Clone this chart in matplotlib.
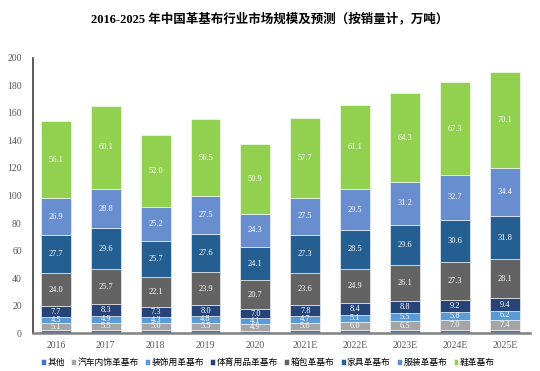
# -*- coding: utf-8 -*-
# 2016-2025 中国革基布行业市场规模及预测 堆叠柱状图
import numpy as np
import matplotlib.pyplot as plt

plt.rcParams['font.family'] = ['Liberation Serif', 'Noto Sans CJK SC']

# ========== 数据 ==========
years = ['2016', '2017', '2018', '2019', '2020', '2021E', '2022E', '2023E', '2024E', '2025E']
series_names = ['其他', '汽车内饰革基布', '装饰用革基布', '体育用品革基布',
                '箱包革基布', '家具革基布', '服装革基布', '鞋革基布']
other = [2.0, 2.1, 2.3, 2.0, 1.6, 2.0, 2.1, 2.2, 2.3, 2.4]
auto_interior = [5.1, 5.5, 5.0, 5.5, 4.9, 5.6, 6.0, 6.5, 7.0, 7.4]
decoration = [4.5, 4.9, 4.3, 4.8, 4.1, 4.7, 5.1, 5.5, 5.8, 6.2]
sports = [7.7, 8.3, 7.3, 8.0, 7.0, 7.8, 8.4, 8.8, 9.2, 9.4]
luggage = [24.0, 25.7, 22.1, 23.9, 20.7, 23.6, 24.9, 26.1, 27.3, 28.1]
furniture = [27.7, 29.6, 25.7, 27.6, 24.1, 27.3, 28.5, 29.6, 30.6, 31.8]
apparel = [26.9, 28.8, 25.2, 27.5, 24.3, 27.5, 29.5, 31.2, 32.7, 34.4]
shoes = [56.1, 60.1, 52.0, 56.5, 50.9, 57.7, 61.1, 64.3, 67.3, 70.1]
yticks = [0, 20, 40, 60, 80, 100, 120, 140, 160, 180, 200]

colors = ['#4472C4', '#A5A5A5', '#5B9BD5', '#264478',
          '#636363', '#255E91', '#698ED0', '#92D050']
series = [other, auto_interior, decoration, sports, luggage, furniture, apparel, shoes]

# ========== 绘图 ==========
fig = plt.figure(figsize=(5.4, 3.71), dpi=100)
ax = fig.add_axes([0.061, 0.1024, 0.92, 0.7413])

x = np.arange(len(years))
bottom = np.zeros(len(years))
for i, (name, vals, c) in enumerate(zip(series_names, series, colors)):
    vals = np.array(vals)
    ax.bar(x, vals, 0.6, bottom=bottom, color=c, edgecolor='white',
           linewidth=0.4, label=name)
    if i > 0:  # 其他 不标数值
        for xi, b, v in zip(x, bottom, vals):
            ax.text(xi, b + v / 2, f'{v:.1f}', ha='center', va='center',
                    color='white', fontsize=6)
    bottom += vals

ax.set_xlim(-0.46, 9.5)
ax.set_ylim(0, 200)
ax.set_yticks(yticks)
ax.set_xticks(x)
ax.set_xticklabels(years)
ax.tick_params(axis='both', length=0, labelsize=7, colors='#595959', pad=6)
ax.tick_params(axis='y', pad=8)

for s in ['top', 'right']:
    ax.spines[s].set_visible(False)
ax.spines['left'].set_color('#404040')
ax.spines['left'].set_linewidth(1.2)
ax.spines['bottom'].set_color('#808080')
ax.spines['bottom'].set_linewidth(1.8)

fig.suptitle('2016-2025 年中国革基布行业市场规模及预测（按销量计，万吨）',
             x=0.5, y=0.965, fontsize=9, fontweight='bold')

ax.legend(loc='center', bbox_to_anchor=(0.473, -0.108), ncol=8,
          frameon=False, handlelength=0.55, handleheight=0.55,
          handletextpad=0.15, columnspacing=0.75, borderpad=0,
          prop={'family': ['Noto Sans CJK SC'], 'size': 6.3})

plt.savefig('out.png', dpi=100)
